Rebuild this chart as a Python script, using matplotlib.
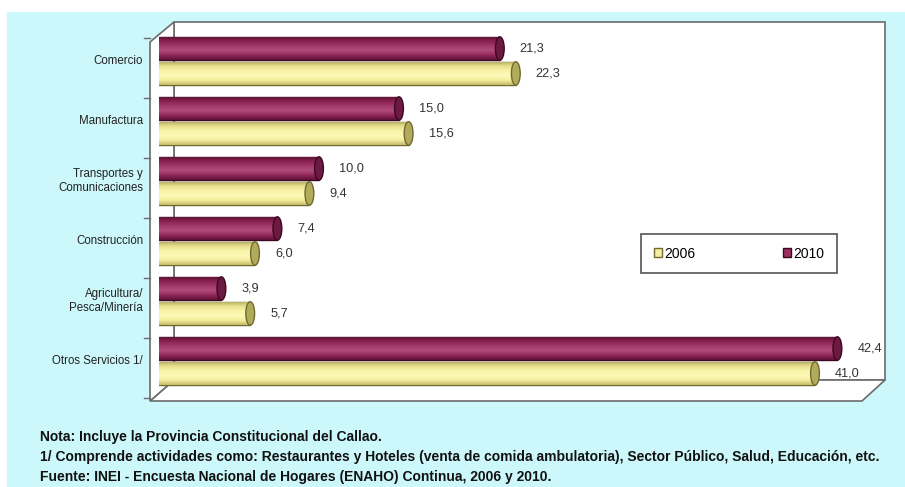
import numpy as np
import matplotlib
matplotlib.use("Agg")
import matplotlib.pyplot as plt
from matplotlib.patches import Polygon, Rectangle, Ellipse
from matplotlib.colors import LinearSegmentedColormap

# datos (porcentaje)
categorias = ["Comercio", "Manufactura", "Transportes y\nComunicaciones",
              "Construcción", "Agricultura/\nPesca/Minería", "Otros Servicios 1/"]
v2010 = [21.3, 15.0, 10.0, 7.4, 3.9, 42.4]
v2006 = [22.3, 15.6, 9.4, 6.0, 5.7, 41.0]
etiquetas_2010 = ["21,3", "15,0", "10,0", "7,4", "3,9", "42,4"]
etiquetas_2006 = ["22,3", "15,6", "9,4", "6,0", "5,7", "41,0"]
notas = ["Nota: Incluye la Provincia Constitucional del Callao.",
         "1/ Comprende actividades como: Restaurantes y Hoteles (venta de comida ambulatoria), Sector Público, Salud, Educación, etc.",
         "Fuente: INEI - Encuesta Nacional de Hogares (ENAHO) Continua, 2006 y 2010."]

W, H = 905, 487
fig = plt.figure(figsize=(W / 100, H / 100), dpi=100)
fig.patch.set_facecolor("white")

# fondo y marco 3D (coordenadas en pixeles)
bg = fig.add_axes([0, 0, 1, 1])
bg.set_xlim(0, W)
bg.set_ylim(H, 0)
bg.axis("off")
bg.add_patch(Rectangle((7, 12), W - 7, H - 12, color="#cdf8fb", zorder=0))
edge = "#6b6b6b"
bg.add_patch(Polygon([(174, 22), (885, 22), (885, 380), (174, 380)], closed=True,
                     facecolor="white", edgecolor=edge, lw=1.2, zorder=1))
bg.add_patch(Polygon([(174, 380), (885, 380), (862, 401), (150, 401)], closed=True,
                     facecolor="white", edgecolor=edge, lw=1.2, zorder=1))
bg.add_patch(Polygon([(150, 42), (174, 22), (174, 380), (150, 401)], closed=True,
                     facecolor="white", edgecolor=edge, lw=1.2, zorder=1))
for ty in np.arange(len(categorias) + 1) * 60 + 38:
    bg.plot([144, 150], [ty, ty], color=edge, lw=1, zorder=2)

# eje de datos: 16 px por unidad, barras desde x=159
ax = fig.add_axes([159 / W, (H - 401) / H, (885 - 159) / W, 379 / H])
ax.patch.set_alpha(0)
ax.axis("off")

y = np.arange(len(categorias))
h = 0.39
off = 0.208

cmap10 = LinearSegmentedColormap.from_list("c10", ["#5e1036", "#93295b", "#b04c7c", "#a13868", "#86204f", "#5a0f33"])
cmap06 = LinearSegmentedColormap.from_list("c06", ["#c4bc6a", "#f5efa0", "#fdfab8", "#f8f3a6", "#e6df8a", "#b0a85e"])
grad = np.linspace(0, 1, 64).reshape(-1, 1)


def cilindros(vals, ys, cmap, base, borde, tapa):
    bars = ax.barh(ys, vals, height=h, color=base, edgecolor=borde, lw=1.0, zorder=3)
    for b in bars:
        x0, y0 = b.get_x(), b.get_y()
        w, hh = b.get_width(), b.get_height()
        im = ax.imshow(grad, cmap=cmap, aspect="auto", extent=(x0, x0 + w, y0 + hh, y0),
                       zorder=4, interpolation="bicubic")
        im.set_clip_path(b)
        ax.add_patch(Ellipse((x0 + w, y0 + hh / 2), 0.55, hh, facecolor=tapa,
                             edgecolor=borde, lw=1.0, zorder=5))
    return bars


b10 = cilindros(v2010, y - off, cmap10.reversed(), "#9b2f60", "#3c0820", "#6d1a42")
b06 = cilindros(v2006, y + off, cmap06.reversed(), "#f4ef9e", "#6f6a30", "#b3ab5c")
ax.set_ylim(-0.65 + 379 / 60, -0.65)
ax.set_xlim(0, (885 - 159) / 16)

fuente = ["Liberation Sans Narrow", "Liberation Sans", "DejaVu Sans"]
for yi, v, t in zip(y - off, v2010, etiquetas_2010):
    ax.text(v + 1.25, yi, t, va="center", ha="left", fontsize=9.2, color="#333333", family=fuente, zorder=6)
for yi, v, t in zip(y + off, v2006, etiquetas_2006):
    ax.text(v + 1.25, yi, t, va="center", ha="left", fontsize=9.2, color="#333333", family=fuente, zorder=6)

for yi, c in zip(y, categorias):
    fig.text(143 / W, 1 - (61 + yi * 60) / H, c, ha="right", va="center", fontsize=8.3,
             color="#222222", family=fuente, linespacing=1.3)

leg = fig.legend([b06[0], b10[0]], ["2006", "2010"], ncol=2, mode="expand",
                 loc="lower left", bbox_to_anchor=(641 / W, 1 - 273 / H, 196 / W, 38 / H),
                 handlelength=0.6, handleheight=0.6, handletextpad=0.15,
                 fancybox=False, edgecolor="#555555", framealpha=1,
                 prop={"family": fuente, "size": 10}, borderpad=0.9, borderaxespad=0)
leg.get_frame().set_linewidth(1.2)
for hnd in leg.legend_handles:
    hnd.set_linewidth(1.0)

for i, n in enumerate(notas):
    fig.text(40 / W, 1 - (437 + i * 20) / H, n, ha="left", va="center", fontsize=10,
             fontweight="bold", color="#111111", family=fuente)

fig.savefig("out.png", dpi=100)
